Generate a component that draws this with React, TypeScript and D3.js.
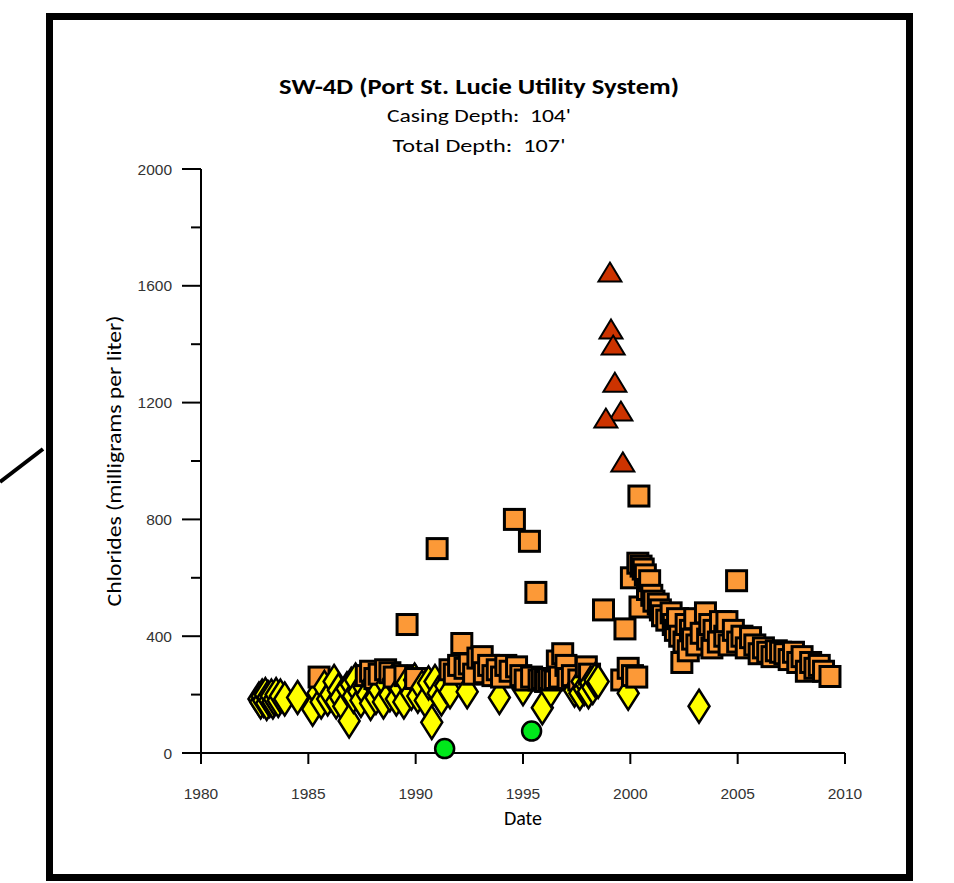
import * as d3 from "d3";

// yellow diamonds
const diamondDates = [
  1982.7, 1982.78, 1982.85, 1982.92, 1983.0, 1983.06, 1983.12, 1983.2, 1983.28, 1983.35,
  1983.42, 1983.5, 1983.6, 1983.7, 1983.9,
  1984.5, 1985.2, 1985.45, 1985.6, 1985.75, 1985.9, 1986.05, 1986.2, 1986.3, 1986.4, 1986.5,
  1986.65, 1986.8, 1986.9, 1987.0, 1987.1, 1987.2, 1987.35, 1987.45, 1987.6, 1987.75, 1987.9,
  1988.0, 1988.15, 1988.3, 1988.5, 1988.65, 1988.8, 1988.95, 1989.1, 1989.3, 1989.45, 1989.6,
  1989.8, 1989.95, 1990.1, 1990.3, 1990.45, 1990.6, 1990.75, 1990.9, 1991.05, 1991.2, 1991.4,
  1991.6, 1992.4, 1993.9, 1995.0, 1995.9, 1996.3, 1997.4, 1997.55, 1997.65, 1997.75, 1997.85,
  1997.95, 1998.05, 1998.15, 1998.25, 1998.35, 1998.5, 1999.9, 2003.2,
];
const diamondValues = [
  185, 175, 195, 180, 200, 170, 190, 180, 195, 175,
  185, 200, 180, 195, 185,
  190, 150, 205, 175, 225, 185, 200, 245, 175, 215, 190,
  160, 220, 110, 235, 195, 250, 210, 180, 225, 200, 170,
  240, 190, 215, 175, 235, 200, 250, 185, 220, 175, 240,
  205, 250, 195, 225, 180, 240, 105, 245, 205, 185, 230,
  210, 210, 190, 220, 155, 215, 215, 230, 205, 245, 220,
  235, 210, 240, 225, 250, 245, 205, 160,
];

// orange squares
const squareDates = [
  1985.5, 1987.7, 1987.9, 1988.1, 1988.3, 1988.6, 1988.8, 1989.0, 1989.5, 1989.6, 1990.0,
  1991.0, 1991.6, 1991.8, 1992.0, 1992.15, 1992.3, 1992.5, 1992.7, 1992.9, 1993.1, 1993.2,
  1993.4, 1993.6, 1993.8, 1994.0, 1994.2, 1994.4, 1994.6, 1994.7, 1994.9, 1995.1, 1995.3,
  1995.4, 1995.6, 1995.75, 1995.9, 1996.05, 1996.2, 1996.35, 1996.5,
  1996.6, 1996.7, 1996.85, 1997.0, 1997.1, 1997.3, 1997.6, 1997.95, 1998.1, 1998.75, 1999.6,
  1999.75, 1999.9, 2000.05, 2000.1, 2000.3, 2000.35, 2000.4, 2000.45, 2000.5, 2000.6, 2000.7,
  2000.8, 2000.9, 2001.0, 2001.1, 2001.3, 2001.4, 2001.5, 2001.7, 2001.9, 2002.0, 2002.1,
  2002.2, 2002.3, 2002.4, 2002.5, 2002.6, 2002.7, 2002.8, 2002.9, 2003.0, 2003.1, 2003.3,
  2003.5, 2003.6, 2003.7, 2003.8, 2003.9, 2004.1, 2004.2, 2004.4, 2004.5, 2004.6, 2004.8,
  2004.95, 2005.0, 2005.2, 2005.4, 2005.6, 2005.8, 2006.0, 2006.2, 2006.4, 2006.6, 2006.8,
  2007.0, 2007.2, 2007.4, 2007.6, 2007.8, 2008.0, 2008.2, 2008.4, 2008.6, 2008.8, 2009.0,
  2009.3,
];
const squareValues = [
  260, 265, 280, 255, 270, 285, 275, 260, 265, 440, 255,
  700, 285, 270, 300, 375, 290, 305, 270, 325, 330, 275,
  300, 265, 285, 260, 300, 280, 800, 295, 265, 250, 725,
  260, 550, 250, 255, 245, 255, 250, 255,
  315, 260, 340, 300, 255, 265, 250, 295, 270, 490, 250,
  425, 290, 600, 265, 260, 650, 880, 500, 640, 630, 610,
  560, 590, 540, 520, 510, 490, 470, 455, 480, 440, 420,
  460, 400, 310, 380, 440, 350, 420, 390, 460, 370, 410,
  480, 390, 440, 360, 420, 380, 450, 400, 450, 370, 420,
  590, 380, 400, 360, 395, 370, 340, 360, 345, 330, 350,
  345, 340, 320, 345, 310, 330, 280, 310, 290, 300, 280,
  262,
];

// red triangles
const triangleDates = [1999.05, 1999.1, 1999.2, 1999.28, 1999.56, 1998.86, 1999.65];
const triangleValues = [1647, 1452, 1397, 1270, 1171, 1147, 997];

// green circles
const circleDates = [1991.35, 1995.4];
const circleValues = [15, 75];

const xTicks = [1980, 1985, 1990, 1995, 2000, 2005, 2010];
const yTicks = [0, 400, 800, 1200, 1600, 2000];
const yMinorTicks = [200, 600, 1000, 1400, 1800];

const title = "SW-4D (Port St. Lucie Utility System)";
const subtitle1 = "Casing Depth:  104'";
const subtitle2 = "Total Depth:  107'";

const x = d3.scaleLinear([1980, 2010], [201, 845]);
const y = d3.scaleLinear([0, 2000], [753, 169]);

const calibri = "Carlito, 'Open Sans', sans-serif";
const arial = "'Liberation Sans', Arial, sans-serif";

type Pt = { kind: "d" | "s"; date: number; value: number };

export default function App() {
  // diamonds and squares drawn interleaved by date
  const pts: Pt[] = [
    ...diamondDates.map((d, i) => ({ kind: "d" as const, date: d, value: diamondValues[i] })),
    ...squareDates.map((d, i) => ({ kind: "s" as const, date: d, value: squareValues[i] })),
  ].sort((a, b) => a.date - b.date);

  const dw = 10.5, dh = 16.5, sq = 10, tw = 11.5, th = 9.5;

  return (
    <svg
      width={954}
      height={883}
      style={{ position: "absolute", left: 0, top: 0, background: "#fff" }}
    >
      <rect x={49.5} y={16.5} width={860} height={861} fill="#fff" stroke="#000" strokeWidth={7} />
      <line x1={0} y1={482} x2={43} y2={449} stroke="#000" strokeWidth={4} />

      <text x={479} y={94} textAnchor="middle" fontFamily={calibri} fontWeight="bold" fontSize={22}
        textLength={400} lengthAdjust="spacingAndGlyphs">{title}</text>
      <text x={479} y={122} textAnchor="middle" fontFamily={calibri} fontSize={19}
        style={{ whiteSpace: "pre" }} textLength={184} lengthAdjust="spacingAndGlyphs">{subtitle1}</text>
      <text x={479} y={152} textAnchor="middle" fontFamily={calibri} fontSize={19}
        style={{ whiteSpace: "pre" }} textLength={173} lengthAdjust="spacingAndGlyphs">{subtitle2}</text>

      {/* axes */}
      <line x1={201} y1={169} x2={201} y2={762} stroke="#000" strokeWidth={2} />
      <line x1={193} y1={753} x2={845} y2={753} stroke="#000" strokeWidth={2} />
      {yTicks.map((t) => (
        <g key={"y" + t}>
          <line x1={182} x2={201} y1={y(t)} y2={y(t)} stroke="#000" strokeWidth={2} />
          <text x={172} y={y(t) + 5.5} textAnchor="end" fontFamily={arial} fontSize={15.5} fill="#333">{t}</text>
        </g>
      ))}
      {yMinorTicks.map((t) => (
        <line key={"ym" + t} x1={191} x2={201} y1={y(t)} y2={y(t)} stroke="#000" strokeWidth={2} />
      ))}
      {xTicks.map((t) => (
        <g key={"x" + t}>
          <line x1={x(t)} x2={x(t)} y1={753} y2={764} stroke="#000" strokeWidth={2} />
          <text x={x(t)} y={799} textAnchor="middle" fontFamily={arial} fontSize={15.5} fill="#333">{t}</text>
        </g>
      ))}
      <text x={523} y={825} textAnchor="middle" fontFamily={calibri} fontSize={20}>Date</text>
      <text transform="translate(121,461) rotate(-90)" textAnchor="middle" fontFamily={calibri} fontSize={20}
        textLength={291} lengthAdjust="spacingAndGlyphs">Chlorides (milligrams per liter)</text>

      {/* markers */}
      {pts.map((p, i) => {
        const cx = x(p.date), cy = y(p.value);
        return p.kind === "d" ? (
          <path key={i}
            d={`M${cx},${cy - dh}L${cx + dw},${cy}L${cx},${cy + dh}L${cx - dw},${cy}Z`}
            fill="#FFFF00" stroke="#000" strokeWidth={2.5} strokeLinejoin="miter" />
        ) : (
          <rect key={i} x={cx - sq} y={cy - sq} width={sq * 2} height={sq * 2}
            fill="#FC9937" stroke="#000" strokeWidth={3} />
        );
      })}
      {triangleDates.map((d, i) => {
        const cx = x(d), cy = y(triangleValues[i]);
        return (
          <path key={"t" + i}
            d={`M${cx},${cy - th}L${cx + tw},${cy + th}L${cx - tw},${cy + th}Z`}
            fill="#CC3300" stroke="#000" strokeWidth={2} />
        );
      })}
      {circleDates.map((d, i) => (
        <circle key={"c" + i} cx={x(d)} cy={y(circleValues[i])} r={9.5}
          fill="#00E81B" stroke="#000" strokeWidth={2.5} />
      ))}
    </svg>
  );
}
